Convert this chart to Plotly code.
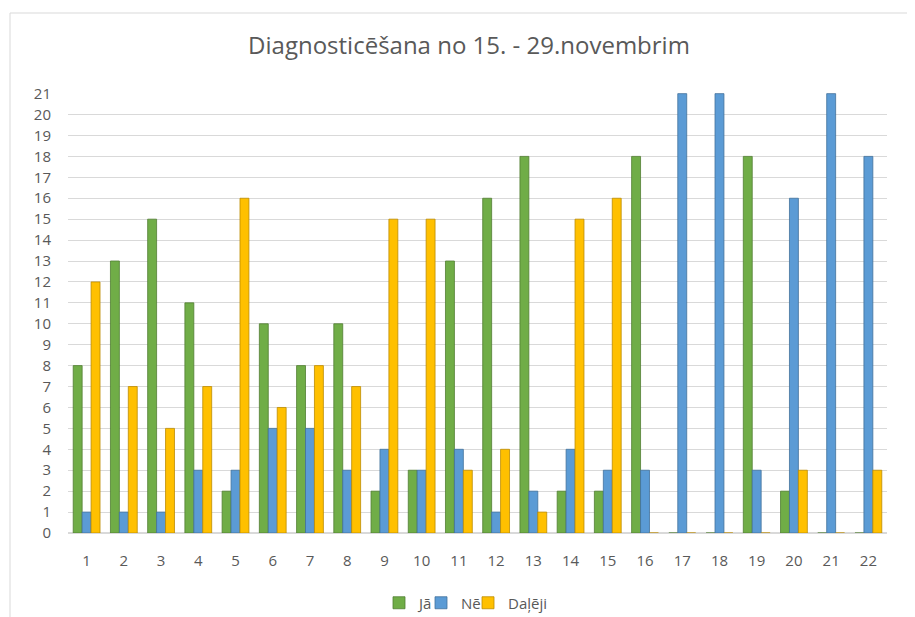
import plotly.graph_objects as go

categories = [str(i) for i in range(1, 23)]
ja = [8, 13, 15, 11, 2, 10, 8, 10, 2, 3, 13, 16, 18, 2, 2, 18, 0, 0, 18, 2, 0, 0]
ne = [1, 1, 1, 3, 3, 5, 5, 3, 4, 3, 4, 1, 2, 4, 3, 3, 21, 21, 3, 16, 21, 18]
daleji = [12, 7, 5, 7, 16, 6, 8, 7, 15, 15, 3, 4, 1, 15, 16, 0, 0, 0, 0, 3, 0, 3]
y_ticks = list(range(0, 22))

series = [
    ("Jā", ja, "#70AD47", "#507E32", "legend", 404),
    ("Nē", ne, "#5B9BD5", "#41719C", "legend2", 446),
    ("Daļēji", daleji, "#FFC000", "#BC8C00", "legend3", 493),
]

# The page body has an 8px margin; the figure starts at (8, 8) on the page.
OFF = 8
W, H = 915 - OFF, 617 - OFF
ml = 68 - OFF
mt = 93 - OFF
plot_right = 887 - OFF
plot_bottom = 533 - OFF
mr = W - plot_right
mb = H - plot_bottom
pw, ph = W - ml - mr, H - mt - mb

fig = go.Figure()
legends = {}
for name, vals, col, edge, lg, sq_x in series:
    fig.add_trace(go.Bar(
        x=categories, y=vals, name=name, legend=lg,
        marker=dict(color=col, line=dict(color=edge, width=0.8)),
    ))
    legends[lg] = dict(orientation="h", x=(sq_x - OFF - 25 - ml) / pw, xanchor="left",
                       y=-(603 - 533) / ph, yanchor="middle", bgcolor="rgba(0,0,0,0)",
                       font=dict(size=15, color="#595959"), itemwidth=30)

fig.update_layout(
    width=W, height=H,
    margin=dict(l=ml, r=mr, t=mt, b=mb, autoexpand=False),
    paper_bgcolor="white", plot_bgcolor="white",
    barmode="group", bargap=0.28, bargroupgap=0,
    font=dict(family="Open Sans, Liberation Sans, sans-serif", color="#595959", size=15),
    title=dict(text="Diagnosticēšana no 15. - 29.novembrim", x=(469 - OFF) / W, xanchor="center",
               y=1 - (46 - OFF) / H, yanchor="middle",
               font=dict(size=24, color="#595959")),
    showlegend=True,
    **legends,
)
fig.update_yaxes(range=[0, 21.03], tickvals=y_ticks, showgrid=True, gridcolor="#D9D9D9", gridwidth=1,
                 zeroline=True, zerolinecolor="#D9D9D9", showline=False, ticks="",
                 tickfont=dict(size=15, color="#595959"), ticklabelstandoff=16, automargin=False)
fig.update_xaxes(showgrid=False, showline=False, ticks="", tickfont=dict(size=15, color="#595959"),
                 ticklabelstandoff=17, automargin=False)

# chart frame: top and left edges (the rest lies outside the picture)
bx = (10 - OFF - ml) / pw
by = (plot_bottom - (13 - OFF)) / ph
fig.add_shape(type="line", xref="paper", yref="paper", x0=bx, x1=(W - ml) / pw, y0=by, y1=by,
              line=dict(color="#D9D9D9", width=1), layer="below")
fig.add_shape(type="line", xref="paper", yref="paper", x0=bx, x1=bx, y0=by, y1=-(H - plot_bottom) / ph,
              line=dict(color="#D9D9D9", width=1), layer="below")

fig.write_html("out.html")
